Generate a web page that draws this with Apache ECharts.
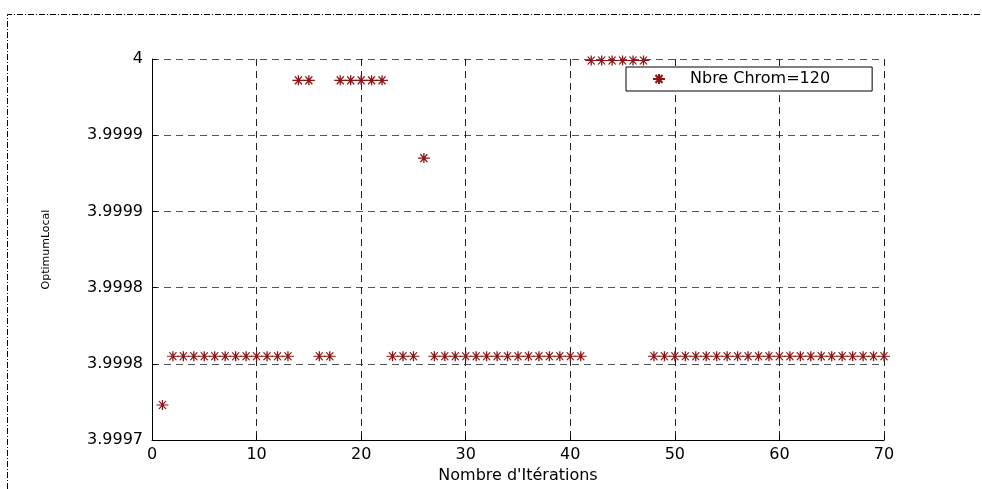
<!DOCTYPE html>
<html>
<head>
<meta charset="utf-8">
<script src="https://cdn.jsdelivr.net/npm/echarts@6/dist/echarts.min.js"></script>
<style>
  html, body { margin: 0; padding: 0; background: #fff; }
  #chart { width: 982px; height: 489px; }
</style>
</head>
<body>
<div id="chart"></div>
<script>
// iterations (x) and local optimum found at each one (y)
const iterations = [
  1, 2, 3, 4, 5, 6, 7, 8, 9, 10, 11, 12, 13, 14, 15, 16, 17, 18, 19, 20,
  21, 22, 23, 24, 25, 26, 27, 28, 29, 30, 31, 32, 33, 34, 35, 36, 37, 38, 39, 40,
  41, 42, 43, 44, 45, 46, 47, 48, 49, 50, 51, 52, 53, 54, 55, 56, 57, 58, 59, 60,
  61, 62, 63, 64, 65, 66, 67, 68, 69, 70
];
const optimumLocal = [
  3.999773,
  3.999805, 3.999805, 3.999805, 3.999805, 3.999805, 3.999805,
  3.999805, 3.999805, 3.999805, 3.999805, 3.999805, 3.999805,
  3.999986, 3.999986,
  3.999805, 3.999805,
  3.999986, 3.999986, 3.999986, 3.999986, 3.999986,
  3.999805, 3.999805, 3.999805,
  3.999935,
  3.999805, 3.999805, 3.999805, 3.999805, 3.999805, 3.999805, 3.999805, 3.999805,
  3.999805, 3.999805, 3.999805, 3.999805, 3.999805, 3.999805, 3.999805,
  3.999999, 3.999999, 3.999999, 3.999999, 3.999999, 3.999999,
  3.999805, 3.999805, 3.999805, 3.999805, 3.999805, 3.999805, 3.999805, 3.999805,
  3.999805, 3.999805, 3.999805, 3.999805, 3.999805, 3.999805, 3.999805, 3.999805,
  3.999805, 3.999805, 3.999805, 3.999805, 3.999805, 3.999805, 3.999805
];
const seriesName = 'Nbre Chrom=120';

// y ticks are 3.99975 .. 4 every 0.00005, printed with 5 digits like matlab does
const yMin = 3.99975;
const yMax = 4;
const yStep = 0.00005;
const yTickLabels = ['3.9997', '3.9998', '3.9998', '3.9999', '3.9999', '4'];

const red = '#8b1414';
const font = 'DejaVu Sans';
// matlab style '*' marker : plus + cross
const starPath = 'path://M0,5L12,5M6,0L6,10M2.5,1L9.5,9M9.5,1L2.5,9';

const chart = echarts.init(document.getElementById('chart'));

chart.setOption({
  animation: false,
  backgroundColor: '#fff',
  textStyle: { fontFamily: font },
  grid: { left: 152, right: 98, top: 59, bottom: 46 },
  graphic: [
    {
      // dash-dot figure border
      type: 'polyline',
      silent: true,
      shape: { points: [[7.5, 489], [7.5, 14.5], [982, 14.5]] },
      style: { fill: null, stroke: '#000', lineWidth: 1, lineDash: [6, 2, 1, 2] }
    }
  ],
  legend: {
    data: [seriesName],
    left: 626,
    top: 67,
    orient: 'vertical',
    itemWidth: 12,
    itemHeight: 10,
    padding: [4, 42, 4, 26],
    borderColor: '#000',
    borderWidth: 1,
    borderRadius: 0,
    backgroundColor: '#fff',
    textStyle: { fontFamily: font, fontSize: 16, color: '#000', padding: [0, 0, 0, 20] }
  },
  xAxis: {
    type: 'value',
    min: 0,
    max: 70,
    interval: 10,
    name: "Nombre d'Itérations",
    nameLocation: 'middle',
    nameGap: 25,
    nameTextStyle: { fontFamily: font, fontSize: 16, color: '#000' },
    axisLine: { show: true, onZero: false, lineStyle: { color: '#000', width: 1 } },
    axisTick: { show: true, inside: true, length: 5, lineStyle: { color: '#000' } },
    axisLabel: { margin: 7, fontFamily: font, fontSize: 16, color: '#000' },
    splitLine: { show: true, lineStyle: { color: '#222', type: [7, 5], width: 1 } }
  },
  yAxis: {
    type: 'value',
    min: yMin,
    max: yMax,
    interval: yStep,
    name: 'OptimumLocal',
    nameLocation: 'middle',
    nameGap: 100,
    nameRotate: 90,
    nameTextStyle: { fontFamily: font, fontSize: 11, color: '#000' },
    axisLine: { show: true, onZero: false, lineStyle: { color: '#000', width: 1 } },
    axisTick: { show: true, inside: true, length: 5, lineStyle: { color: '#000' } },
    axisLabel: {
      margin: 9,
      fontFamily: font,
      fontSize: 16,
      color: '#000',
      formatter: (v) => yTickLabels[Math.round((v - yMin) / yStep)] || ''
    },
    splitLine: { show: true, lineStyle: { color: '#555', type: [7, 5], width: 1 } }
  },
  series: [
    {
      name: seriesName,
      type: 'scatter',
      symbol: starPath,
      symbolSize: [12, 10],
      itemStyle: { color: 'transparent', borderColor: red, borderWidth: 1.2, opacity: 1 },
      data: iterations.map((x, i) => [x, optimumLocal[i]])
    }
  ]
});
</script>
</body>
</html>
